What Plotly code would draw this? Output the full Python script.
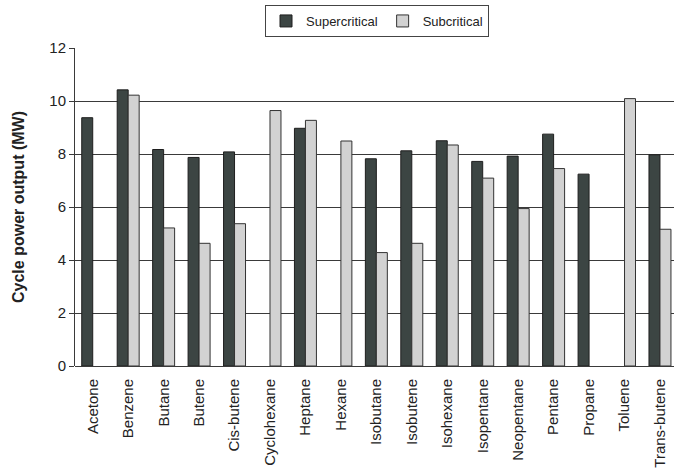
import plotly.graph_objects as go

categories = ["Acetone", "Benzene", "Butane", "Butene", "Cis-butene", "Cyclohexane",
              "Heptane", "Hexane", "Isobutane", "Isobutene", "Isohexane", "Isopentane",
              "Neopentane", "Pentane", "Propane", "Toluene", "Trans-butene"]
supercritical = [9.37, 10.42, 8.17, 7.87, 8.08, None, 8.97, None, 7.82, 8.12, 8.50, 7.72,
                 7.92, 8.75, 7.24, None, 7.97]
subcritical = [None, 10.22, 5.21, 4.63, 5.37, 9.64, 9.27, 8.49, 4.28, 4.63, 8.34, 7.09,
               5.94, 7.45, None, 10.09, 5.16]
y_ticks = [0, 2, 4, 6, 8, 10, 12]

fig = go.Figure()
fig.add_trace(go.Bar(name="Supercritical", x=categories, y=supercritical,
                     marker=dict(color="#3c4543", line=dict(color="#1e1e1e", width=1))))
fig.add_trace(go.Bar(name="Subcritical", x=categories, y=subcritical,
                     marker=dict(color="#d2d2d2", line=dict(color="#333333", width=1))))

W, H = 674, 468
left, top, bottom = 75, 48, 102
fig.update_layout(
    width=W, height=H,
    margin=dict(l=left, r=0, t=top, b=bottom),
    paper_bgcolor="white", plot_bgcolor="white",
    font=dict(family="Liberation Sans, Arial, sans-serif", size=15, color="#222222"),
    barmode="group", bargap=0.38, bargroupgap=0.0,
    showlegend=True,
    legend=dict(orientation="h", xref="container", yref="container",
                x=377 / W, xanchor="center", y=1 - 5 / H, yanchor="top",
                bordercolor="#444444", borderwidth=1, bgcolor="white",
                font=dict(size=13), itemwidth=30, traceorder="normal",
                tracegroupgap=0),
)
fig.update_xaxes(
    type="category", range=[-0.5, 16.5 - 3.7 / 35.46],
    tickangle=-90, showgrid=False, showline=False, ticks="",
    tickfont=dict(size=15), ticklabelstandoff=9, automargin=False,
)
fig.update_yaxes(
    range=[0, 12], tickvals=y_ticks, ticktext=[str(v) for v in y_ticks],
    showgrid=True, gridcolor="#3a3a3a", gridwidth=1,
    showline=True, linecolor="#3a3a3a", linewidth=1,
    ticks="outside", ticklen=5, tickcolor="#3a3a3a",
    zeroline=True, zerolinecolor="#3a3a3a", zerolinewidth=1,
    tickfont=dict(size=15), automargin=False,
    title=dict(text="<b>Cycle power output (MW)</b>", font=dict(size=16), standoff=20),
)

fig.write_html("out.html")
